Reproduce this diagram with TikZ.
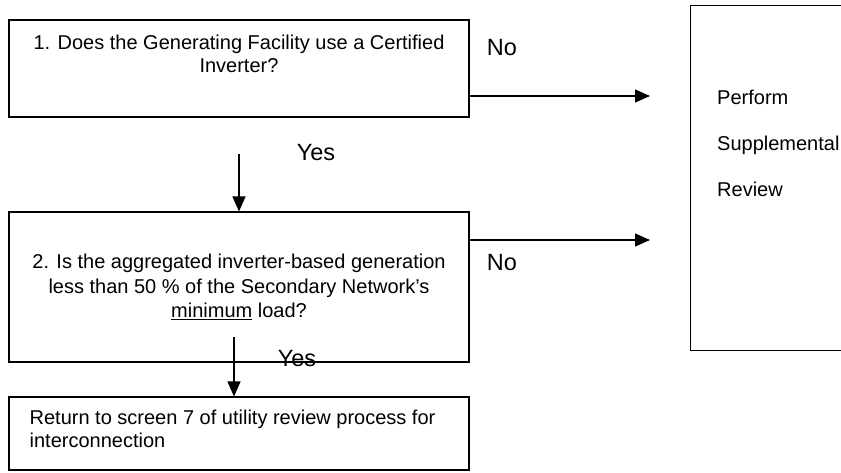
\documentclass[tikz,border=0pt]{standalone}
\usepackage{fontspec}
\setmainfont{Liberation Sans}
\usetikzlibrary{arrows.meta}

\tikzset{
  qbox/.style={draw,line width=1.1pt,minimum width=460pt,inner sep=0pt},
  qtext/.style={align=center,inner sep=0pt,font=\fontsize{20}{23}\selectfont},
  flow/.style={line width=1.1pt,-{Triangle[length=15pt,width=13pt]}},
  ans/.style={inner sep=0pt,font=\fontsize{23.5}{27}\selectfont}
}

\begin{document}
\begin{tikzpicture}[x=1pt,y=-1pt]
        \useasboundingbox (0,0) rectangle (841,472);
        \clip (0,0) rectangle (841,472);
        % question boxes
        \node[qbox,minimum height=97pt] (q1) at (239,68.5) {};
        \node[qtext,anchor=north,yshift=-15pt] (t1) at (q1.north) {1. Does the Generating Facility use a Certified\\Inverter?};
        \node[qbox,minimum height=150pt] (q2) at (239,287) {};
        \node[qtext,font=\fontsize{20}{24.5}\selectfont] (t2) at (q2.center) {2. Is the aggregated inverter-based generation\\less than 50 \% of the Secondary Network's\\\underline{minimum} load?};
        \node[qbox,minimum height=73pt] (q3) at (239,433.5) {};
        \node[qtext,align=left,anchor=north west,xshift=21pt,yshift=-13pt] (t3) at (q3.north west) {Return to screen 7 of utility review process for\\interconnection};
        % review box
        \node[draw,line width=1.1pt,minimum width=300pt,minimum height=345pt,anchor=north west] (rev) at (690,5) {};
        \node[qtext,align=left,anchor=north west,font=\fontsize{20}{46}\selectfont] (t4) at (717,90) {Perform\\Supplemental\\Review};
        % connectors
        \coordinate (n1) at (650,96);
        \coordinate (n2) at (650,240);
        \coordinate (y1) at (239,154);
        \coordinate (y2) at (234,337);
        \draw[flow] (q1.east |- n1) -- (n1);
        \draw[flow] (q2.east |- n2) -- (n2);
        \draw[flow] (y1) -- (q2.north);
        \draw[flow] (y2) -- (y2 |- q3.north);
        % answers
        \node[ans] (no1) at (502,48) {No};
        \node[ans] (no2) at (502,263) {No};
        \node[ans] (yes1) at (316,153) {Yes};
        \node[ans] (yes2) at (297,359) {Yes};
\end{tikzpicture}
\end{document}
